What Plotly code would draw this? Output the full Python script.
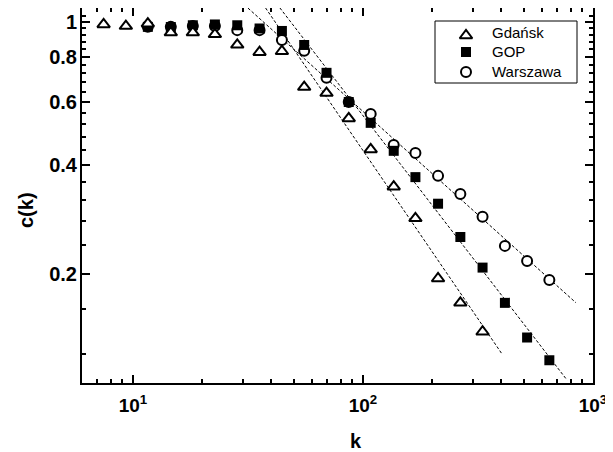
import plotly.graph_objects as go

# ---- data ----
k_gdansk = [7.45, 9.31, 11.6, 14.6, 18.2, 22.7, 28.4, 35.5, 44.4, 55.5, 69.4, 86.7,
            108, 136, 169, 212, 265, 331]
c_gdansk = [0.985, 0.975, 0.99, 0.935, 0.935, 0.925, 0.865, 0.825, 0.83, 0.66, 0.635,
            0.54, 0.443, 0.349, 0.285, 0.194, 0.166, 0.138]

k_gop = [11.6, 14.6, 18.2, 22.7, 28.4, 35.5, 44.4, 55.5, 69.4, 86.7, 108, 136, 169,
         212, 265, 331, 414, 517, 646]
c_gop = [0.97, 0.969, 0.98, 0.985, 0.98, 0.96, 0.945, 0.864, 0.723, 0.60, 0.525,
         0.439, 0.371, 0.313, 0.253, 0.208, 0.166, 0.133, 0.115]

k_warszawa = [11.6, 14.6, 18.2, 22.7, 28.4, 35.5, 44.4, 55.5, 69.4, 86.7, 108, 136,
              169, 212, 265, 331, 414, 517, 646]
c_warszawa = [0.97, 0.97, 0.975, 0.975, 0.95, 0.95, 0.892, 0.832, 0.70, 0.60, 0.556,
              0.456, 0.433, 0.374, 0.333, 0.288, 0.239, 0.217, 0.192]

series_names = ["Gdańsk", "GOP", "Warszawa"]

# power-law fits c(k) = A * k^(-gamma), drawn over [kmin, kmax]
fit_amp = [32.6, 24.9, 7.94]
fit_gamma = [0.935, 0.828, 0.574]
fit_kmin = [37.7, 43.5, 31.6]
fit_kmax = [402, 771, 843]

x_tickvals = [10, 100, 1000]
x_ticktext = ["10<sup>1</sup>", "10<sup>2</sup>", "10<sup>3</sup>"]
x_minor = [6, 7, 8, 9, 20, 30, 40, 50, 60, 70, 80, 90, 200, 300, 400, 500, 600, 700, 800, 900]
y_tickvals = [0.2, 0.4, 0.6, 0.8, 1.0]
y_ticktext = ["0.2", "0.4", "0.6", "0.8", "1"]
y_minor = [0.12, 0.16, 0.24, 0.28, 0.32, 0.36, 0.44, 0.48, 0.52, 0.56, 0.64, 0.68,
           0.72, 0.76, 0.84, 0.88, 0.92, 0.96, 1.04]

FONT = "Liberation Sans, Arial, sans-serif"

# plot-area geometry in page pixels (used to place the boxed legend)
PX_L, PX_R, PX_T, PX_B = 82, 593, 8, 383


def px_x(p):
    return (p - PX_L) / (PX_R - PX_L)


def px_y(p):
    return (PX_B - p) / (PX_B - PX_T)


fig = go.Figure()

# fit lines
for A, g, k0, k1 in zip(fit_amp, fit_gamma, fit_kmin, fit_kmax):
    ks = [k0, k1]
    fig.add_trace(go.Scatter(
        x=ks, y=[A * kk ** (-g) for kk in ks], mode="lines",
        line=dict(color="black", width=1, dash="3px,2px"),
        showlegend=False, hoverinfo="skip"))

# marker styles (open markers have white fill, as in the original)
symbols = ["triangle-up", "square", "circle"]
fills = ["white", "black", "white"]
sizes = [11, 10, 10]
lwidths = [2, 0, 2]
series_x = [k_gdansk, k_gop, k_warszawa]
series_y = [c_gdansk, c_gop, c_warszawa]

# draw circles first, then squares, triangles on top
for i in [2, 1, 0]:
    fig.add_trace(go.Scatter(
        x=series_x[i], y=series_y[i], mode="markers", name=series_names[i],
        showlegend=False,
        marker=dict(symbol=symbols[i], size=sizes[i], color=fills[i],
                    line=dict(width=lwidths[i], color="black"))))

# boxed legend (keys on a hidden overlay axis spanning the plot area 0..1)
leg_key_x = px_x(466)
leg_text_x = px_x(490)
leg_rows = [px_y(35.5), px_y(52), px_y(72)]
leg_text_rows = [px_y(33), px_y(52), px_y(72)]
for i, yy in enumerate(leg_rows):
    fig.add_trace(go.Scatter(
        x=[leg_key_x], y=[yy], xaxis="x2", yaxis="y2", mode="markers",
        showlegend=False, hoverinfo="skip", cliponaxis=False,
        marker=dict(symbol=symbols[i], size=sizes[i], color=fills[i],
                    line=dict(width=lwidths[i], color="black"))))

axis_common = dict(
    showline=True, linecolor="black", linewidth=2, mirror="ticks",
    ticks="inside", ticklen=8, tickwidth=1.5, tickcolor="black",
    showgrid=False, zeroline=False,
)

fig.update_xaxes(
    type="log", range=[0.7782, 3.0],
    tickmode="array", tickvals=x_tickvals, ticktext=x_ticktext,
    tickfont=dict(family=FONT, size=19, color="black", weight="bold"),
    ticklabelstandoff=4,
    minor=dict(tickmode="array", tickvals=x_minor, ticks="inside", ticklen=4,
               tickwidth=1.5, tickcolor="black", showgrid=False),
    **axis_common)
fig.update_yaxes(
    type="log", range=[-1.0025, 0.0392],
    tickmode="array", tickvals=y_tickvals, ticktext=y_ticktext,
    tickfont=dict(family=FONT, size=20, color="black", weight="bold"),
    ticklabelstandoff=-1,
    minor=dict(tickmode="array", tickvals=y_minor, ticks="inside", ticklen=4,
               tickwidth=1.5, tickcolor="black", showgrid=False),
    **axis_common)

annotations = [
    dict(text="k", xref="paper", yref="paper", x=px_x(356), y=px_y(441),
         showarrow=False, font=dict(family=FONT, size=20, color="black", weight="bold"),
         xanchor="center", yanchor="middle"),
    dict(text="c(k)", xref="paper", yref="paper", x=px_x(26), y=px_y(210),
         showarrow=False, textangle=-90,
         font=dict(family=FONT, size=20, color="black", weight="bold"),
         xanchor="center", yanchor="middle"),
]
for name, yy in zip(series_names, leg_text_rows):
    annotations.append(dict(
        text=name, xref="paper", yref="paper", x=leg_text_x, y=yy,
        showarrow=False, xanchor="left", yanchor="middle",
        font=dict(family=FONT, size=15, color="black")))

# page body has an 8px margin, so the figure is 8px smaller and offset
fig.update_layout(
    width=605, height=444,
    margin=dict(l=74, r=20, t=0, b=69, autoexpand=False),
    plot_bgcolor="white", paper_bgcolor="white",
    font=dict(family=FONT, color="black"),
    showlegend=False,
    xaxis2=dict(overlaying="x", range=[0, 1], visible=False, fixedrange=True),
    yaxis2=dict(overlaying="y", range=[0, 1], visible=False, fixedrange=True),
    shapes=[dict(type="rect", xref="paper", yref="paper",
                 x0=px_x(435), x1=px_x(577), y0=px_y(83), y1=px_y(21),
                 line=dict(color="black", width=1), fillcolor="white", layer="below")],
    annotations=annotations,
)

fig.write_html("out.html")
